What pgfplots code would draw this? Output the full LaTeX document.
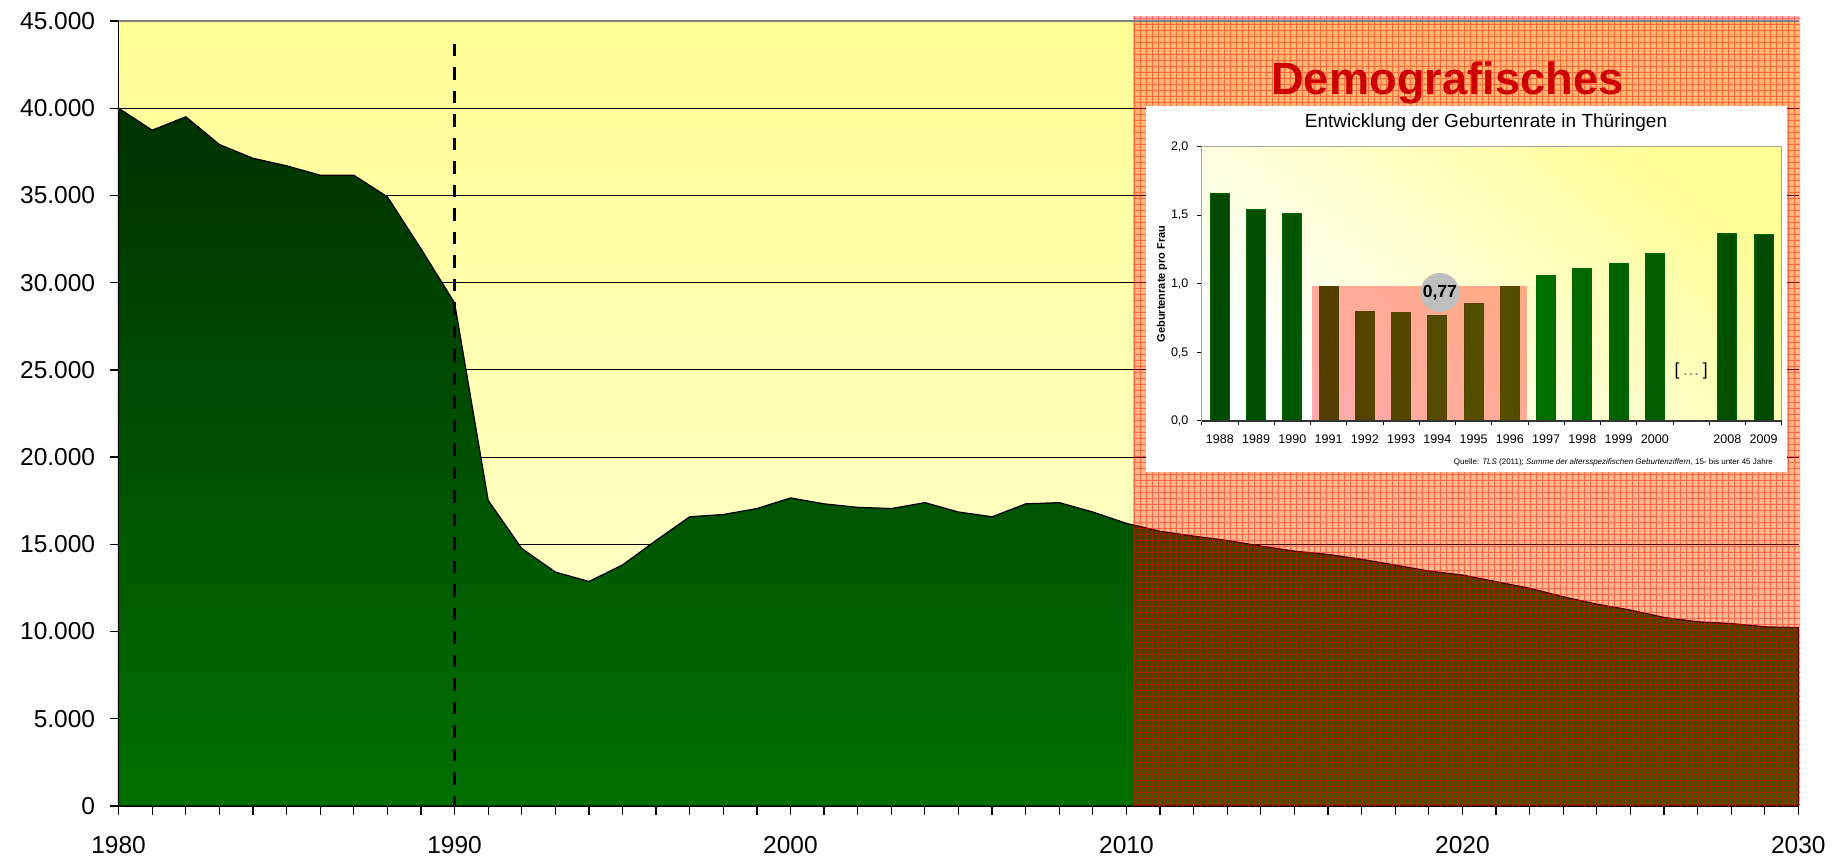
\documentclass[border=0pt]{standalone}
\usepackage{fontspec}
\setmainfont{Liberation Sans}
\usepackage{pgfplots}
\pgfplotsset{compat=1.18}
\usetikzlibrary{patterns.meta}
\definecolor{bgtop}{RGB}{255,255,150}
\definecolor{bgbot}{RGB}{255,255,215}
\definecolor{grtop}{RGB}{0,50,0}
\definecolor{grbot}{RGB}{0,112,0}
\definecolor{bardk}{RGB}{0,72,0}
\definecolor{barlt}{RGB}{0,122,0}
\definecolor{demored}{RGB}{204,0,0}
\definecolor{insbg}{RGB}{255,255,150}

\pgfplotstableread{
year births
1980 40000
1981 38740
1982 39510
1983 37920
1984 37130
1985 36700
1986 36160
1987 36160
1988 34920
1989 31940
1990 28840
1991 17520
1992 14760
1993 13410
1994 12870
1995 13820
1996 15230
1997 16580
1998 16710
1999 17050
2000 17660
2001 17320
2002 17120
2003 17050
2004 17390
2005 16850
2006 16580
2007 17320
2008 17390
2009 16850
2010 16200
2011 15750
2012 15470
2013 15220
2014 14900
2015 14610
2016 14420
2017 14140
2018 13810
2019 13470
2020 13240
2021 12860
2022 12480
2023 11990
2024 11570
2025 11230
2026 10810
2027 10560
2028 10460
2029 10270
2030 10230
}\births

\pgfplotstableread{
x rate
0 1.66
1 1.54
2 1.51
3 0.98
4 0.80
5 0.79
6 0.77
7 0.86
8 0.98
9 1.06
10 1.11
11 1.15
12 1.22
14 1.37
15 1.36
}\rates

\begin{document}
\begin{tikzpicture}
\useasboundingbox (-47.44pt,-20.8pt) rectangle (689.36pt,322.4pt);
\begin{axis}[
  at={(0pt,0pt)}, anchor=south west,
  scale only axis, width=671.96pt, height=314pt,
  xmin=1980, xmax=2030, ymin=0, ymax=45000,
  clip=false,
  axis x line*=bottom, axis y line*=left,
  axis line style={black, line width=0.6pt},
  xtick={1980,...,2030},
  xticklabels={1980,,,,,,,,,,1990,,,,,,,,,,2000,,,,,,,,,,2010,,,,,,,,,,2020,,,,,,,,,,2030},
  ytick={0,5000,...,45000},
  yticklabels={0,5.000,10.000,15.000,20.000,25.000,30.000,35.000,40.000,45.000},
  tick align=outside, major tick length=3.6pt,
  tick style={black, line width=0.5pt},
  ymajorgrids, grid style={black, line width=0.4pt},
  tick label style={font=\fontsize{9.8}{11}\selectfont},
  yticklabel style={inner sep=0pt, xshift=-5.6pt},
  xticklabel style={inner sep=0pt, yshift=-8.2pt},
  /pgf/number format/assume math mode=true,
  axis background/.style={top color=bgtop, bottom color=bgbot},
]
\addplot[draw=black, line width=0.5pt, top color=grtop, bottom color=grbot] table[x=year, y=births] {\births} \closedcycle;
\addplot[black, line width=1.3pt, dash pattern=on 5pt off 4.4pt] coordinates {(1990,43700) (1990,0)};
\fill[red, opacity=0.28] (axis cs:2010.2,0) rectangle (axis cs:2030.05,45260);
\fill[pattern={Hatch[angle=0,distance=2.4pt,line width=0.35pt]}, pattern color=red, opacity=0.45] (axis cs:2010.2,0) rectangle (axis cs:2030.05,45260);
\draw[gray, line width=0.8pt] (axis cs:1980,45000) -- (axis cs:2030,45000);
\end{axis}

\node[font=\bfseries\fontsize{18.1}{20}\selectfont, text=demored, anchor=base] at (531.5pt,284.4pt) {Demografisches};
\fill[white] (410.96pt,133.6pt) rectangle (667.36pt,280.0pt);
\node[font=\fontsize{7.6}{9}\selectfont, anchor=base] at (546.96pt,271.5pt) {Entwicklung der Geburtenrate in Thüringen};
\node[font=\fontsize{3.2}{4}\selectfont, anchor=east] at (665.26pt,137.5pt) {Quelle: \textit{TLS} (2011); \textit{Summe der altersspezifischen Geburtenziffern}, 15- bis unter 45 Jahre};

\begin{axis}[
  at={(433.26pt,154.0pt)}, anchor=south west,
  scale only axis, width=232pt, height=109.7pt,
  xmin=-0.5, xmax=15.5, ymin=0, ymax=2,
  clip=false,
  axis line style={gray!70, line width=0.5pt},
  tick pos=left, tick align=outside,
  xtick={-0.5,0.5,...,15.5},
  x tick label as interval,
  xticklabels={1988,1989,1990,1991,1992,1993,1994,1995,1996,1997,1998,1999,2000,,2008,2009},
  ytick={0,0.5,1,1.5,2},
  yticklabels={{0,0},{0,5},{1,0},{1,5},{2,0}},
  major tick length=1.8pt,
  tick style={black, line width=0.4pt},
  tick label style={font=\fontsize{5}{6}\selectfont},
  ylabel={Geburtenrate pro Frau},
  ylabel style={font=\bfseries\fontsize{4.4}{5}\selectfont, at={(axis description cs:-0.0685,0.5)}, anchor=center},
  axis background/.style={top color=insbg, bottom color=white, shading angle=-40},
]
\addplot[ybar, bar width=7.6pt, draw=black!60!green, line width=0.4pt, left color=bardk, right color=bardk, middle color=barlt] table[x=x, y=rate] {\rates};
\fill[red, opacity=0.33] (axis cs:2.55,0) rectangle (axis cs:8.47,0.985);
\draw[black!80, line width=0.5pt] (axis cs:-0.5,0) -- (axis cs:15.5,0);
\node[circle, fill=gray!50, minimum size=15.6pt, inner sep=0pt, font=\bfseries\fontsize{7}{8}\selectfont] at (axis cs:6.07,0.938) {0,77};
\node[font=\fontsize{7}{8}\selectfont] at (axis cs:13,0.367) {[\,\textcolor{gray}{\ldots}\,]};
\end{axis}
\end{tikzpicture}
\end{document}
